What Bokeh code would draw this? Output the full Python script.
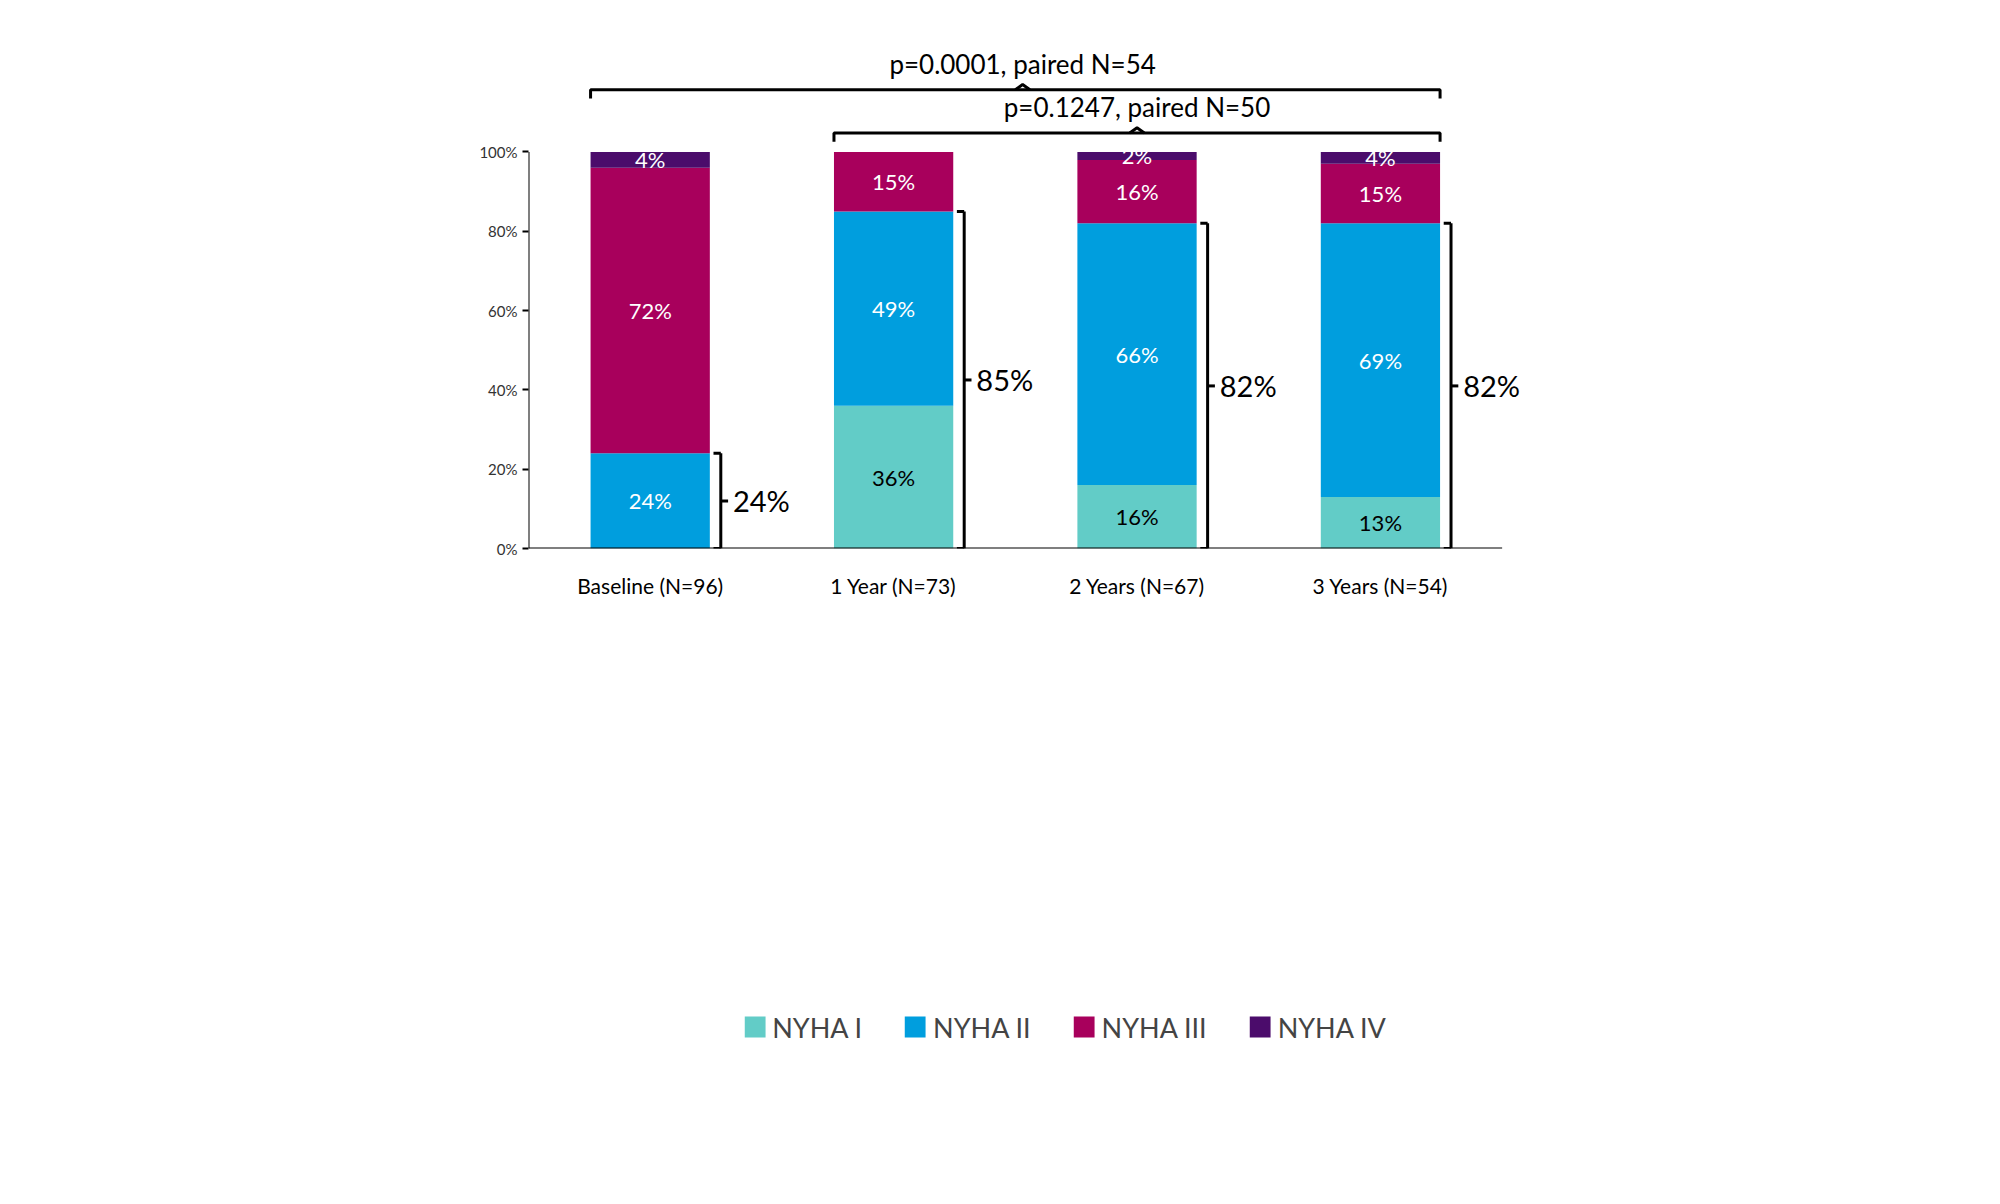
import math
from bokeh.plotting import figure
from bokeh.models import FixedTicker, Legend, LegendItem, Label
from bokeh.core.properties import value
from bokeh.embed import file_html
from bokeh.resources import INLINE

categories = ["Baseline (N=96)", "1 Year (N=73)", "2 Years (N=67)", "3 Years (N=54)"]
nyha1 = [0, 36, 16, 13]
nyha2 = [24, 49, 66, 69]
nyha3 = [72, 15, 16, 15]
nyha4 = [4, 0, 2, 4]
combined = [24, 85, 82, 82]
series_names = ["NYHA I", "NYHA II", "NYHA III", "NYHA IV"]
colors = ["#62CCC7", "#009EDE", "#A8005C", "#4B0C6B"]
label_colors = ["black", "white", "white", "white"]
y_ticks = [0, 20, 40, 60, 80, 100]
brackets = [("p=0.0001, paired N=54", 0, 3, 1.53, 115.7), ("p=0.1247, paired N=50", 1, 3, 2.0, 104.8)]

FONT = "Lato"
p = figure(width=1984, height=1180, x_range=(-0.5, 3.9), y_range=(0, 127.1),
           output_backend="svg", toolbar_location=None,
           min_border_left=528, min_border_right=385, min_border_top=44, min_border_bottom=120)
p.outline_line_color = None
p.xgrid.visible = False
p.ygrid.visible = False
p.background_fill_color = "white"

xs = list(range(len(categories)))
w = 0.49
series = [nyha1, nyha2, nyha3, nyha4]
renderers = []
bottom = [0] * 4
for vals, c, lc in zip(series, colors, label_colors):
    top = [min(b + v, 100) for b, v in zip(bottom, vals)]
    r = p.vbar(x=xs, bottom=bottom, top=top, width=w, fill_color=c, line_color=None)
    renderers.append(r)
    lx = [x for x, v in zip(xs, vals) if v > 0]
    ly = [(b + t) / 2 for b, t, v in zip(bottom, top, vals) if v > 0]
    lt = [f"{v}%" for v in vals if v > 0]
    p.text(x=lx, y=ly, text=lt, text_color=lc, text_align="center", text_baseline="middle",
           text_font=value(FONT), text_font_size="22px")
    bottom = top

# right brackets
bx = [x + 0.29 for x in xs]
p.segment(x0=bx, y0=[0]*4, x1=bx, y1=combined, line_color="black", line_width=3)
p.segment(x0=[b - 0.03 for b in bx], y0=combined, x1=bx, y1=combined, line_color="black", line_width=3)
p.segment(x0=[b - 0.03 for b in bx], y0=[0]*4, x1=bx, y1=[0]*4, line_color="black", line_width=3)
p.segment(x0=bx, y0=[c / 2 for c in combined], x1=[b + 0.03 for b in bx], y1=[c / 2 for c in combined],
          line_color="black", line_width=3)
p.text(x=[b + 0.05 for b in bx], y=[c / 2 for c in combined], text=[f"{c}%" for c in combined],
       text_baseline="middle", text_font=value(FONT), text_font_size="29px", text_color="black")

# top brackets
for txt, i0, i1, cx, yb in brackets:
    x0, x1 = i0 - w / 2, i1 + w / 2
    p.line([x0, x0, x1, x1], [yb - 2.2, yb, yb, yb - 2.2], line_color="black", line_width=3)
    p.line([cx - 0.03, cx, cx + 0.03], [yb, yb + 1.3, yb], line_color="black", line_width=3)
    p.text(x=[cx], y=[yb + 6.5], text=[txt], text_align="center", text_baseline="middle",
           text_font=value(FONT), text_font_size="26px", text_color="black")

# axis lines
p.segment(x0=[-0.5], y0=[0], x1=[-0.5], y1=[100], line_color="black", line_width=2)
p.segment(x0=[-0.5], y0=[0], x1=[3.5], y1=[0], line_color="black", line_width=2)

p.yaxis.ticker = FixedTicker(ticks=y_ticks)
p.yaxis.major_label_overrides = {t: f"{t}%" for t in y_ticks}
p.yaxis.axis_line_color = None
p.yaxis.minor_tick_line_color = None
p.yaxis.major_tick_in = 0
p.yaxis.major_tick_out = 6
p.yaxis.major_tick_line_width = 2
p.yaxis.major_label_text_font = FONT
p.yaxis.major_label_text_font_size = "15px"
p.yaxis.major_label_text_color = "#333333"

p.add_layout(Label(x=-0.5, y=50, x_offset=-68, text="NYHA Class (%)", angle=math.pi / 2,
                   text_align="center", text_baseline="middle", text_font=FONT,
                   text_font_style="bold", text_font_size="24px", text_color="black"))

p.xaxis.ticker = FixedTicker(ticks=xs)
p.xaxis.major_label_overrides = {i: c for i, c in enumerate(categories)}
p.xaxis.major_tick_line_color = None
p.xaxis.minor_tick_line_color = None
p.xaxis.axis_line_color = None
p.xaxis.major_label_text_font = FONT
p.xaxis.major_label_text_font_size = "21px"
p.xaxis.major_label_text_color = "black"
p.xaxis.major_label_standoff = 18

legend = Legend(items=[LegendItem(label=n, renderers=[r]) for n, r in zip(series_names, renderers)],
                orientation="horizontal", location="center", label_text_font=FONT,
                label_text_font_size="27px", glyph_width=26, glyph_height=26, spacing=40,
                margin=40, border_line_color=None, background_fill_alpha=0)
p.add_layout(legend, "below")

open("out.html", "w").write(file_html(p, INLINE))
